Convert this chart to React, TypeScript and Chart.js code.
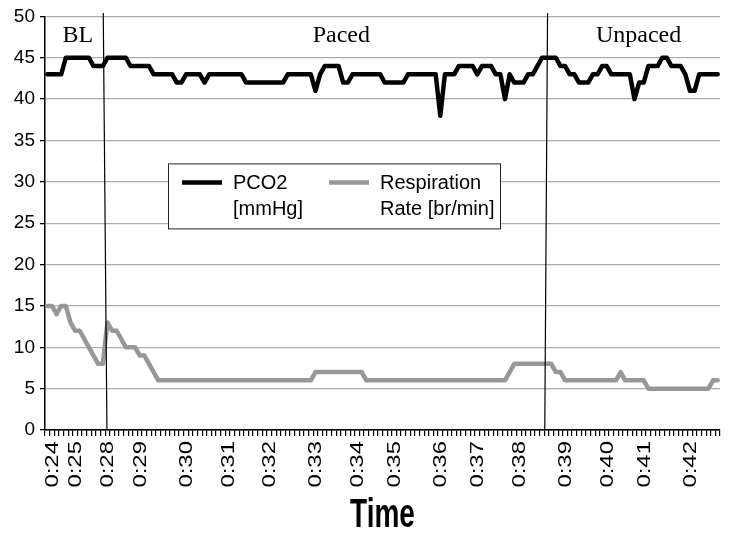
import React, { useEffect, useRef } from 'react';
import { Chart, registerables } from 'chart.js';

Chart.register(...registerables);

// PCO2 [mmHg], one value per sample
const pco2 = [
  43, 43, 43, 43,
  45, 45, 45, 45, 45, 45,
  44, 44, 44,
  45, 45, 45, 45, 45,
  44, 44, 44, 44, 44,
  43, 43, 43, 43, 43,
  42, 42,
  43, 43, 43, 43,
  42,
  43, 43, 43, 43, 43, 43, 43, 43,
  42, 42, 42, 42, 42, 42, 42, 42, 42,
  43, 43, 43, 43, 43, 43,
  41, 43,
  44, 44, 44, 44,
  42, 42,
  43, 43, 43, 43, 43, 43, 43,
  42, 42, 42, 42, 42,
  43, 43, 43, 43, 43, 43, 43,
  38,
  43, 43, 43,
  44, 44, 44, 44,
  43,
  44, 44, 44,
  43, 43,
  40, 43,
  42, 42, 42,
  43, 43,
  44,
  45, 45, 45, 45,
  44, 44,
  43, 43,
  42, 42, 42,
  43, 43,
  44, 44,
  43, 43, 43, 43, 43,
  40,
  42, 42,
  44, 44, 44,
  45, 45,
  44, 44, 44,
  43,
  41, 41,
  43, 43, 43, 43, 43,
];

// Respiration rate [br/min], one value per sample
const respiration = [
  15, 15, 14, 15, 15, 13, 12, 12, 11, 10, 9, 8, 8,
  13, 12, 12, 11, 10, 10, 10, 9, 9, 8, 7,
  6, 6, 6, 6, 6, 6, 6, 6, 6, 6, 6, 6, 6, 6, 6, 6, 6,
  6, 6, 6, 6, 6, 6, 6, 6, 6, 6, 6, 6, 6, 6, 6, 6, 6,
  7, 7, 7, 7, 7, 7, 7, 7, 7, 7, 7,
  6, 6, 6, 6, 6, 6, 6, 6, 6, 6, 6, 6, 6, 6, 6, 6,
  6, 6, 6, 6, 6, 6, 6, 6, 6, 6, 6, 6, 6, 6, 6,
  7,
  8, 8, 8, 8, 8, 8, 8, 8, 8,
  7, 7,
  6, 6, 6, 6, 6, 6, 6, 6, 6, 6, 6, 6,
  7,
  6, 6, 6, 6, 6,
  5, 5, 5, 5, 5, 5, 5, 5, 5, 5, 5, 5, 5, 5,
  6, 6,
];

// Visible time labels and the sample they sit under
const tickLabels = ['0:24', '0:25', '0:28', '0:29', '0:30', '0:31', '0:32', '0:33', '0:34', '0:35', '0:36', '0:37', '0:38', '0:39', '0:40', '0:41', '0:42'];
const tickIndices = [1, 6, 13, 20, 30, 39, 48, 58, 67, 75, 85, 93, 102, 112, 121, 129, 139];

// Phase annotations
const sectionNames = ['BL', 'Paced', 'Unpaced'];
const sectionCenters = [6.6, 63.6, 127.9];
const sectionLevel = 46.85;
const dividerTop = [12.1, 108.2];
const dividerBottom = [12.9, 107.6];
const dividerTopLevel = 50.4;

const seriesNames = [['PCO2', '[mmHg]'], ['Respiration', 'Rate [br/min]']];
const seriesColors = ['#000000', '#979797'];

const SANS = '"Liberation Sans", Arial, sans-serif';
const SERIF = '"Liberation Serif", "Times New Roman", serif';

const overlay = {
  id: 'overlay',
  afterDraw(chart: any) {
    const { ctx, chartArea } = chart;
    const x = chart.scales.x;
    const y = chart.scales.y;
    ctx.save();

    // dividers
    ctx.strokeStyle = '#000';
    ctx.lineWidth = 1.2;
    dividerTop.forEach((t, k) => {
      ctx.beginPath();
      ctx.moveTo(x.getPixelForValue(t), y.getPixelForValue(dividerTopLevel));
      ctx.lineTo(x.getPixelForValue(dividerBottom[k]), y.getPixelForValue(0));
      ctx.stroke();
    });

    // section names
    ctx.fillStyle = '#000';
    ctx.font = `24px ${SERIF}`;
    ctx.textAlign = 'center';
    ctx.textBaseline = 'alphabetic';
    sectionNames.forEach((n, k) => {
      ctx.fillText(n, x.getPixelForValue(sectionCenters[k]), y.getPixelForValue(sectionLevel));
    });

    // legend
    const bx = chartArea.left + 123;
    const by = chartArea.top + 147;
    const bw = 332;
    const bh = 65;
    ctx.fillStyle = '#fff';
    ctx.fillRect(bx, by, bw, bh);
    ctx.strokeStyle = '#222';
    ctx.lineWidth = 1;
    ctx.strokeRect(bx + 0.5, by + 0.5, bw, bh);
    const entryX = [bx + 14, bx + 161];
    ctx.font = `20px ${SANS}`;
    ctx.textAlign = 'left';
    ctx.textBaseline = 'middle';
    seriesNames.forEach((lines, k) => {
      ctx.strokeStyle = seriesColors[k];
      ctx.lineWidth = 4.5;
      ctx.lineCap = 'butt';
      ctx.beginPath();
      ctx.moveTo(entryX[k], by + 19);
      ctx.lineTo(entryX[k] + 40, by + 19);
      ctx.stroke();
      ctx.fillStyle = '#000';
      lines.forEach((ln, j) => ctx.fillText(ln, entryX[k] + 51, by + 20 + j * 26));
    });

    // x tick labels (reading upward)
    ctx.fillStyle = '#000';
    ctx.font = `18px ${SANS}`;
    ctx.textAlign = 'right';
    ctx.textBaseline = 'middle';
    tickLabels.forEach((lab, k) => {
      const px = x.getPixelForValue(tickIndices[k]);
      ctx.save();
      ctx.translate(px + 1, chartArea.bottom + 11);
      ctx.rotate(-Math.PI / 2);
      ctx.scale(1.33, 1);
      ctx.fillText(lab, 0, 0);
      ctx.restore();
    });

    // axis title
    ctx.save();
    ctx.font = `bold 28px ${SANS}`;
    ctx.textAlign = 'center';
    ctx.textBaseline = 'alphabetic';
    ctx.translate((chartArea.left + chartArea.right) / 2, chartArea.bottom + 97);
    ctx.scale(1, 1.47);
    ctx.fillText('Time', 0, 0);
    ctx.restore();

    ctx.restore();
  },
};

export default function App() {
  const ref = useRef<HTMLCanvasElement | null>(null);

  useEffect(() => {
    document.body.style.margin = '0';
    const labels: string[] = pco2.map(() => '');
    tickIndices.forEach((idx, k) => {
      labels[idx] = tickLabels[k];
    });
    const chart = new Chart(ref.current as HTMLCanvasElement, {
      type: 'line',
      data: {
        labels,
        datasets: [
          {
            label: 'PCO2 [mmHg]',
            data: pco2,
            borderColor: seriesColors[0],
            borderWidth: 4.5,
            pointRadius: 0,
            tension: 0,
            borderJoinStyle: 'round',
            borderCapStyle: 'round',
          },
          {
            label: 'Respiration Rate [br/min]',
            data: respiration,
            borderColor: seriesColors[1],
            borderWidth: 4.5,
            pointRadius: 0,
            tension: 0,
            borderJoinStyle: 'round',
            borderCapStyle: 'round',
          },
        ],
      },
      options: {
        responsive: false,
        animation: false,
        devicePixelRatio: 1,
        layout: { padding: { top: 16, right: 9, left: 0, bottom: 0 } },
        plugins: { legend: { display: false }, tooltip: { enabled: false } },
        scales: {
          x: {
            type: 'category',
            offset: true,
            grid: {
              offset: true,
              drawOnChartArea: false,
              drawTicks: true,
              tickLength: 6,
              tickColor: '#000',
              lineWidth: 1.2,
            },
            border: { color: '#000', width: 1.5 },
            ticks: { display: false, autoSkip: false },
            afterFit: (s: any) => {
              s.height = 103;
            },
          },
          y: {
            min: 0,
            max: 50,
            ticks: {
              stepSize: 5,
              color: '#000',
              padding: 5,
              font: { family: SANS, size: 19 },
            },
            grid: {
              color: (c: any) => (c.tick && c.tick.value === 0 ? '#000' : '#adadad'),
              lineWidth: 1.3,
              tickColor: '#000',
              tickLength: 5,
            },
            border: { color: '#000', width: 1.5 },
            afterFit: (s: any) => {
              s.width = 45;
            },
          },
        },
      },
      plugins: [overlay],
    });
    return () => chart.destroy();
  }, []);

  return (
    <div style={{ position: 'fixed', left: 0, top: 0, width: 729, height: 533, background: '#fff' }}>
      <canvas ref={ref} width={729} height={533} />
    </div>
  );
}
